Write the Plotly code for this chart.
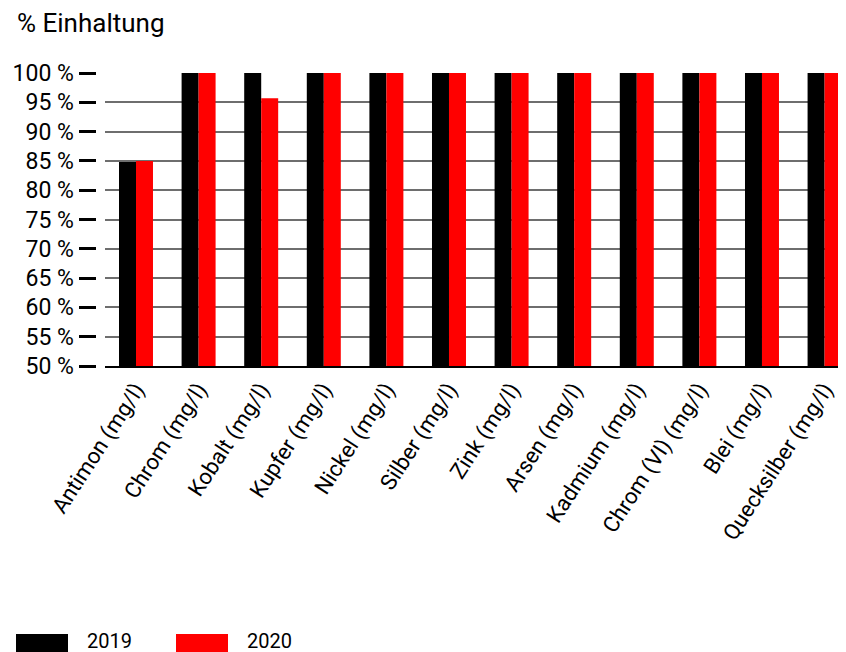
import plotly.graph_objects as go

categories = ["Antimon (mg/l)", "Chrom (mg/l)", "Kobalt (mg/l)", "Kupfer (mg/l)",
              "Nickel (mg/l)", "Silber (mg/l)", "Zink (mg/l)", "Arsen (mg/l)",
              "Kadmium (mg/l)", "Chrom (VI) (mg/l)", "Blei (mg/l)", "Quecksilber (mg/l)"]
values_2019 = [84.8, 100, 100, 100, 100, 100, 100, 100, 100, 100, 100, 100]
values_2020 = [85.0, 100, 95.7, 100, 100, 100, 100, 100, 100, 100, 100, 100]
series_names = ["2019", "2020"]
series_colors = ["#000000", "#ff0000"]
y_ticks = [50, 55, 60, 65, 70, 75, 80, 85, 90, 95, 100]
y_ticklabels = [f"{v} %" for v in y_ticks]

W, H = 846, 652
OFF = 8  # page offset of the figure in the browser
TOP, BOTTOM = 73 - OFF, 366 - OFF
FONT = "Roboto"


def px(p):
    return (p - OFF) / W


def py(p):
    return (BOTTOM - (p - OFF)) / (BOTTOM - TOP)


fig = go.Figure()
for name, vals, col in zip(series_names, [values_2019, values_2020], series_colors):
    fig.add_trace(go.Bar(x=list(range(len(categories))), y=vals, name=name,
                         marker=dict(color=col, line=dict(width=0)),
                         base=0, showlegend=False))

fig.update_layout(
    width=W, height=H,
    margin=dict(l=0, r=0, t=TOP, b=H - BOTTOM, pad=0, autoexpand=False),
    paper_bgcolor="white", plot_bgcolor="white",
    barmode="group", bargap=0.457, bargroupgap=0,
    font=dict(family=FONT, size=19, color="#000000"),
    title=dict(text="% Einhaltung", x=(17 - OFF) / W, xanchor="left", xref="container",
               y=1 - (23 - OFF) / H, yanchor="middle", yref="container",
               font=dict(family=FONT, size=26, color="#000")),
    xaxis=dict(domain=[px(104.7), 1], range=[-0.5, 11.47], automargin=False,
               tickmode="array", tickvals=list(range(len(categories))), ticktext=categories,
               tickangle=-57, showgrid=False, ticks="", showline=True,
               linecolor="#000000", linewidth=2, zeroline=False,
               tickfont=dict(family=FONT, size=22, color="#000")),
    yaxis=dict(range=[50, 100], anchor="free", position=px(95.5), automargin=False,
               tickmode="array", tickvals=y_ticks, ticktext=y_ticklabels,
               ticks="outside", ticklen=17, tickwidth=2.5, tickcolor="#000000",
               showgrid=True, gridcolor="#6e6e6e", gridwidth=1.5,
               showline=False, zeroline=False,
               tickfont=dict(family=FONT, size=23, color="#000")),
)

# legend swatches drawn from the series list
legend_x = [16, 176]
for i, (name, col) in enumerate(zip(series_names, series_colors)):
    lx = legend_x[i]
    fig.add_shape(type="rect", xref="paper", yref="paper",
                  x0=px(lx), x1=px(lx + 52), y0=py(652), y1=py(634),
                  fillcolor=col, line=dict(width=0))
    fig.add_annotation(text=name, xref="paper", yref="paper",
                       x=px(lx + 69), y=py(641), xanchor="left", yanchor="middle",
                       showarrow=False, font=dict(family=FONT, size=20, color="#000"))

fig.write_html("out.html")
